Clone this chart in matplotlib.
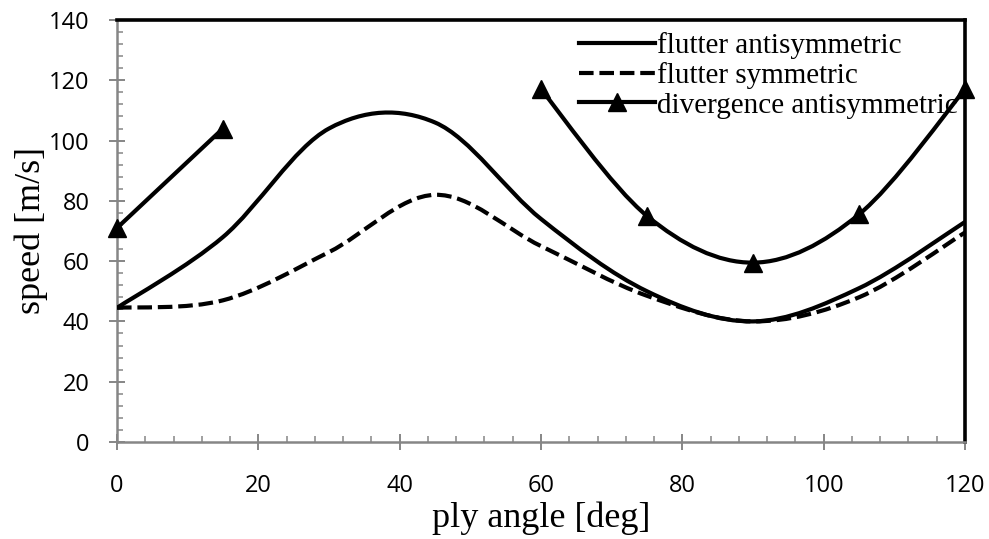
import matplotlib
matplotlib.use("Agg")
import matplotlib.pyplot as plt
import numpy as np
from matplotlib.path import Path
from matplotlib.patches import PathPatch
from matplotlib.lines import Line2D
from matplotlib.ticker import MultipleLocator

# Data
angle = [0, 15, 30, 45, 60, 75, 90, 105, 120]
flutter_anti = [44.5, 68, 104, 106, 74, 50, 40, 51, 73]
flutter_sym = [44.5, 47, 63, 82, 65, 48.5, 40, 48, 69.5]
div_anti_a_x = [0, 15]
div_anti_a_y = [71, 104]
div_anti_b_x = [60, 75, 90, 105, 120]
div_anti_b_y = [117, 75, 59.5, 75.5, 117]


def smooth_path(xs, ys):
    pts = np.column_stack([xs, ys]).astype(float)
    n = len(pts)
    verts = [pts[0]]
    codes = [Path.MOVETO]
    for i in range(n - 1):
        p0 = pts[i - 1] if i > 0 else pts[i]
        p1 = pts[i]
        p2 = pts[i + 1]
        p3 = pts[i + 2] if i + 2 < n else pts[i + 1]
        c1 = p1 + (p2 - p0) / 6.0
        c2 = p2 - (p3 - p1) / 6.0
        verts += [c1, c2, p2]
        codes += [Path.CURVE4] * 3
    return Path(verts, codes)


fig = plt.figure(figsize=(9.89, 5.39), dpi=100)
ax = fig.add_axes([0.1183, 0.180, 0.8574, 0.7829])

lw = 3.0
dash = (0, (3.5, 1.4))
ms = 13
ax.add_patch(PathPatch(smooth_path(angle, flutter_anti), fill=False, lw=lw,
                       edgecolor="black", zorder=3))
ax.add_patch(PathPatch(smooth_path(angle, flutter_sym), fill=False, lw=lw,
                       edgecolor="black", linestyle=dash, zorder=3))
ax.add_patch(PathPatch(smooth_path(div_anti_a_x, div_anti_a_y), fill=False, lw=lw,
                       edgecolor="black", zorder=3))
ax.add_patch(PathPatch(smooth_path(div_anti_b_x, div_anti_b_y), fill=False, lw=lw,
                       edgecolor="black", zorder=3))
ax.plot(div_anti_a_x, div_anti_a_y, linestyle="none", marker="^", ms=ms,
        color="black", zorder=4, clip_on=False)
ax.plot(div_anti_b_x, div_anti_b_y, linestyle="none", marker="^", ms=ms,
        color="black", zorder=4, clip_on=False)

ax.set_xlim(0, 120)
ax.set_ylim(0, 140)
ax.xaxis.set_major_locator(MultipleLocator(20))
ax.yaxis.set_major_locator(MultipleLocator(20))
ax.xaxis.set_minor_locator(MultipleLocator(4))
ax.yaxis.set_minor_locator(MultipleLocator(4))

gray = "#868686"
for s in ["left", "bottom"]:
    ax.spines[s].set_color(gray)
    ax.spines[s].set_linewidth(1.8)
for s in ["top", "right"]:
    ax.spines[s].set_color("black")
    ax.spines[s].set_linewidth(2.6)

ax.tick_params(which="major", direction="inout", length=11.5, width=1.4, color=gray,
               labelsize=17)
ax.tick_params(axis="y", which="major", pad=14)
ax.tick_params(axis="x", which="major", pad=17)
ax.tick_params(which="minor", direction="in", length=4, width=1.1, color=gray)
ax.tick_params(top=False, right=False, which="both")
for lab in ax.get_xticklabels() + ax.get_yticklabels():
    lab.set_fontfamily(["Open Sans", "DejaVu Sans"])

ax.set_xlabel("ply angle [deg]", fontfamily="Liberation Serif", fontsize=26, labelpad=3)
ax.set_ylabel("speed [m/s]", fontfamily="Liberation Serif", fontsize=26, labelpad=1)

handles = [
    Line2D([], [], color="black", lw=lw),
    Line2D([], [], color="black", lw=lw, linestyle=dash),
    Line2D([], [], color="black", lw=lw, marker="^", ms=ms),
]
labels = ["flutter antisymmetric", "flutter symmetric", "divergence antisymmetric"]
leg = ax.legend(handles, labels, loc="upper right", bbox_to_anchor=(1.0, 0.988),
                frameon=False, handlelength=2.6, handletextpad=0.08,
                labelspacing=0.1, borderaxespad=0.05, borderpad=0.2,
                prop={"family": "Liberation Serif", "size": 21})

fig.savefig("out.png", dpi=100)
